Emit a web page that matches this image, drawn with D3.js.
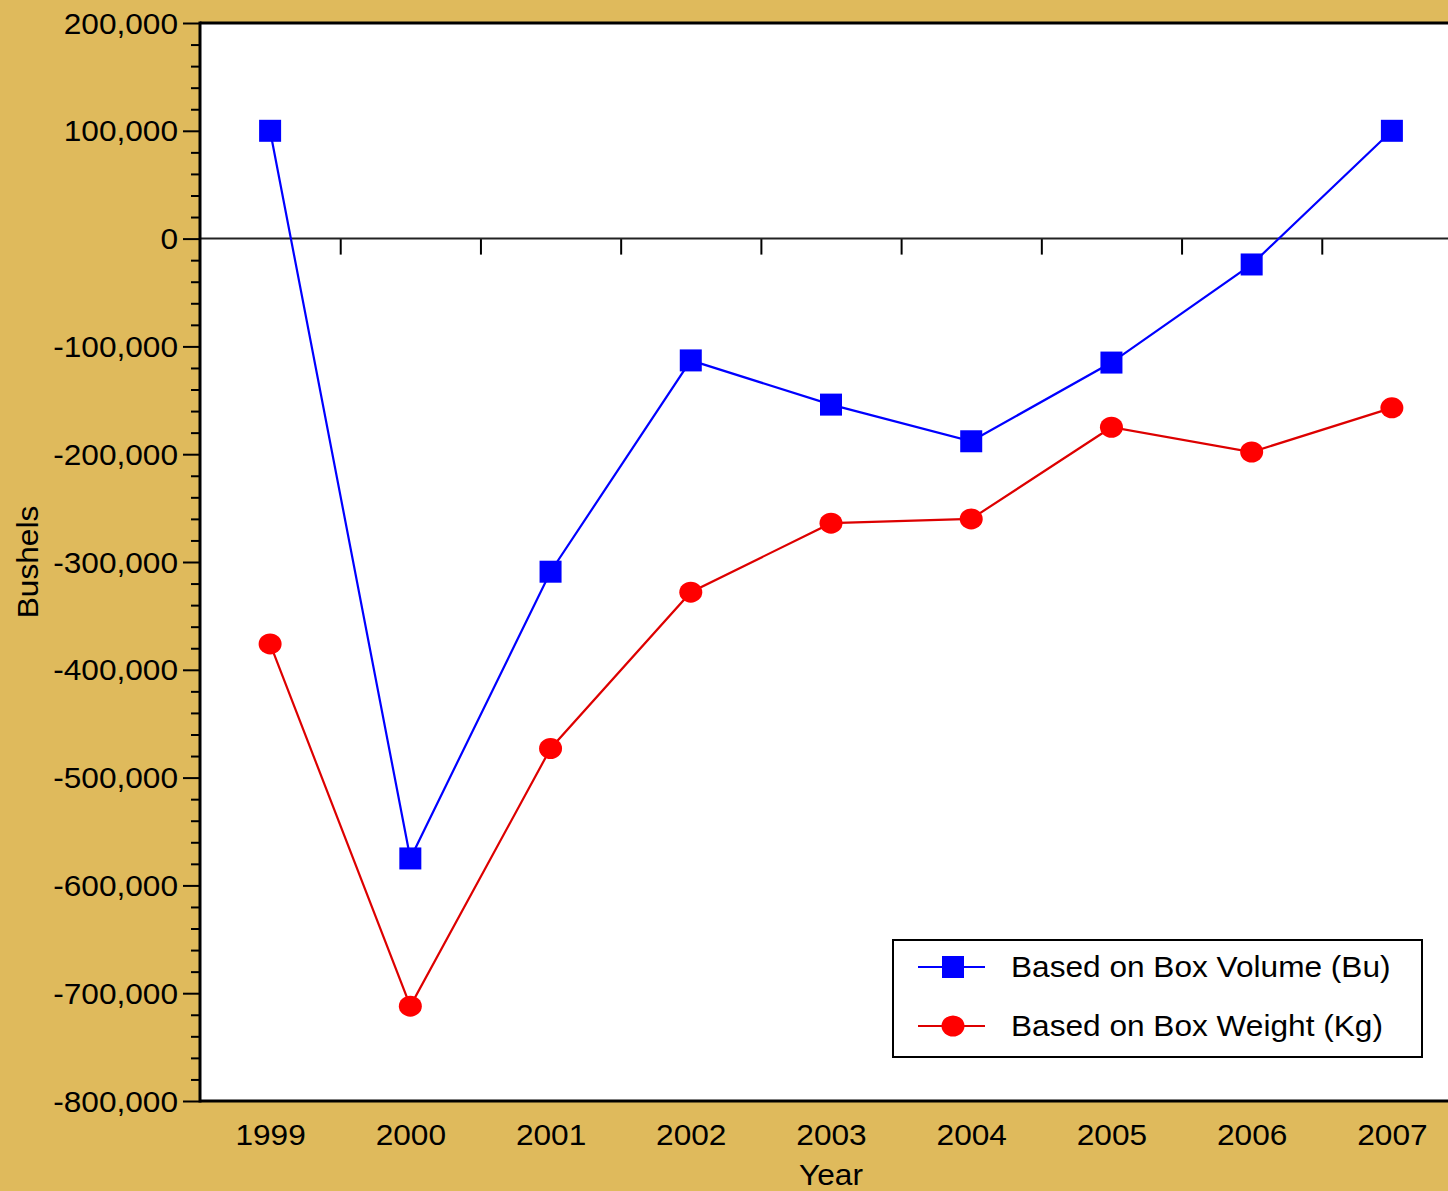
<!DOCTYPE html>
<html><head><meta charset="utf-8">
<script src="https://cdn.jsdelivr.net/npm/d3@7"></script>
<style>
html,body{margin:0;padding:0;background:#dfba5c;}
svg{display:block;}
text{font-family:"Liberation Sans",Arial,Helvetica,sans-serif;fill:#000;}
</style></head>
<body>
<svg id="chart" width="1448" height="1191"></svg>
<script>
const years = [1999, 2000, 2001, 2002, 2003, 2004, 2005, 2006, 2007];
const volumeBu = [100000, -575000, -309000, -113000, -154000, -188000, -115000, -24000, 100000];
const weightKg = [-376000, -712000, -473000, -328000, -264000, -260000, -175000, -198000, -157000];
const yTicks = [200000, 100000, 0, -100000, -200000, -300000, -400000, -500000, -600000, -700000, -800000];
const seriesNames = ["Based on Box Volume (Bu)", "Based on Box Weight (Kg)"];

(function () {
const W = 1448, H = 1191;
const pL = 200, pT = 23, pB = 1101, pR = 1462;
const svg = d3.select("#chart");
svg.append("rect").attr("width", W).attr("height", H).attr("fill", "#dfba5c");

const x = d3.scaleLinear().domain([1998.5, 2007.5]).range([pL, pR]);
const y = d3.scaleLinear().domain([-800000, 200000]).range([pB, pT]);

svg.append("rect").attr("x", pL).attr("y", pT).attr("width", pR - pL).attr("height", pB - pT).attr("fill", "#fff");

const fmt = d => d3.format(",")(d).replace("\u2212", "-");
const minor = d3.range(-800000, 200001, 20000).filter(v => v % 100000 !== 0);
const mAx = svg.append("g").attr("transform", `translate(${pL},0)`)
  .call(d3.axisLeft(y).tickValues(minor).tickSize(9).tickFormat(""));
mAx.select(".domain").remove();
mAx.selectAll("line").attr("stroke", "#000").attr("stroke-width", 2);

const yAx = svg.append("g").attr("transform", `translate(${pL},0)`)
  .call(d3.axisLeft(y).tickValues(yTicks).tickSize(17).tickPadding(5).tickFormat(fmt));
yAx.select(".domain").remove();
yAx.selectAll("line").attr("stroke", "#000").attr("stroke-width", 2);
yAx.selectAll("text").attr("font-size", 29).attr("font-family", "Liberation Sans, Arial, sans-serif").attr("fill", "#000").attr("dy", "0.35em");

const mids = d3.range(1999.5, 2007, 1);
const zAx = svg.append("g").attr("transform", `translate(0,${y(0)})`)
  .call(d3.axisBottom(x).tickValues(mids).tickSize(16).tickFormat(""));
zAx.select(".domain").remove();
zAx.selectAll("line").attr("stroke", "#000").attr("stroke-width", 2);
svg.append("line").attr("x1", pL).attr("x2", W).attr("y1", y(0)).attr("y2", y(0)).attr("stroke", "#222").attr("stroke-width", 2);

svg.append("line").attr("x1", pL).attr("x2", W).attr("y1", pT).attr("y2", pT).attr("stroke", "#000").attr("stroke-width", 3);
svg.append("line").attr("x1", pL).attr("x2", W).attr("y1", pB).attr("y2", pB).attr("stroke", "#000").attr("stroke-width", 3);
svg.append("line").attr("x1", pL).attr("x2", pL).attr("y1", pT - 1.5).attr("y2", pB + 1.5).attr("stroke", "#000").attr("stroke-width", 3);

const xAx = svg.append("g").attr("transform", `translate(0,${pB})`)
  .call(d3.axisBottom(x).tickValues(years).tickSize(0).tickPadding(23).tickFormat(d3.format("d")));
xAx.select(".domain").remove();
xAx.selectAll("text").attr("font-size", 29).attr("font-family", "Liberation Sans, Arial, sans-serif").attr("fill", "#000");

svg.append("text").attr("x", 831).attr("y", 1185).attr("text-anchor", "middle").attr("font-size", 29).text("Year");
svg.append("text").attr("transform", `translate(38,${(pT + pB) / 2}) rotate(-90)`).attr("text-anchor", "middle").attr("font-size", 29).text("Bushels");

const line = d3.line().x((d, i) => x(years[i])).y(d => y(d));
svg.append("path").datum(volumeBu).attr("d", line).attr("fill", "none").attr("stroke", "#0000ff").attr("stroke-width", 2.2);
svg.append("path").datum(weightKg).attr("d", line).attr("fill", "none").attr("stroke", "#dd0000").attr("stroke-width", 2.2);

const sq = 22;
svg.append("g").selectAll("rect").data(volumeBu).join("rect")
  .attr("x", (d, i) => x(years[i]) - sq / 2).attr("y", d => y(d) - sq / 2)
  .attr("width", sq).attr("height", sq).attr("fill", "#0000ff");
svg.append("g").selectAll("ellipse").data(weightKg).join("ellipse")
  .attr("cx", (d, i) => x(years[i])).attr("cy", d => y(d))
  .attr("rx", 11.5).attr("ry", 10.5).attr("fill", "#ff0000");

const lg = svg.append("g");
lg.append("rect").attr("x", 893).attr("y", 940).attr("width", 529).attr("height", 117)
  .attr("fill", "#fff").attr("stroke", "#000").attr("stroke-width", 2);
const lyPos = [967, 1026];
lg.append("line").attr("x1", 918).attr("x2", 985).attr("y1", lyPos[0]).attr("y2", lyPos[0]).attr("stroke", "#0000ff").attr("stroke-width", 2);
lg.append("rect").attr("x", 953 - 11).attr("y", lyPos[0] - 11).attr("width", 22).attr("height", 22).attr("fill", "#0000ff");
lg.append("line").attr("x1", 918).attr("x2", 985).attr("y1", lyPos[1]).attr("y2", lyPos[1]).attr("stroke", "#dd0000").attr("stroke-width", 2);
lg.append("ellipse").attr("cx", 953).attr("cy", lyPos[1]).attr("rx", 11.5).attr("ry", 10.5).attr("fill", "#ff0000");
lg.selectAll("text.lt").data(seriesNames).join("text").attr("class", "lt")
  .attr("x", 1011).attr("y", (d, i) => lyPos[i]).attr("dy", "0.35em").attr("font-size", 29).text(d => d);

// Horizontal stretch of all text to match the wider Helvetica metrics of the reference
svg.selectAll("text").each(function () {
  const len = this.getComputedTextLength();
  if (len > 0) d3.select(this).attr("textLength", len * 1.09).attr("lengthAdjust", "spacingAndGlyphs");
});
})();
</script>
</body></html>
